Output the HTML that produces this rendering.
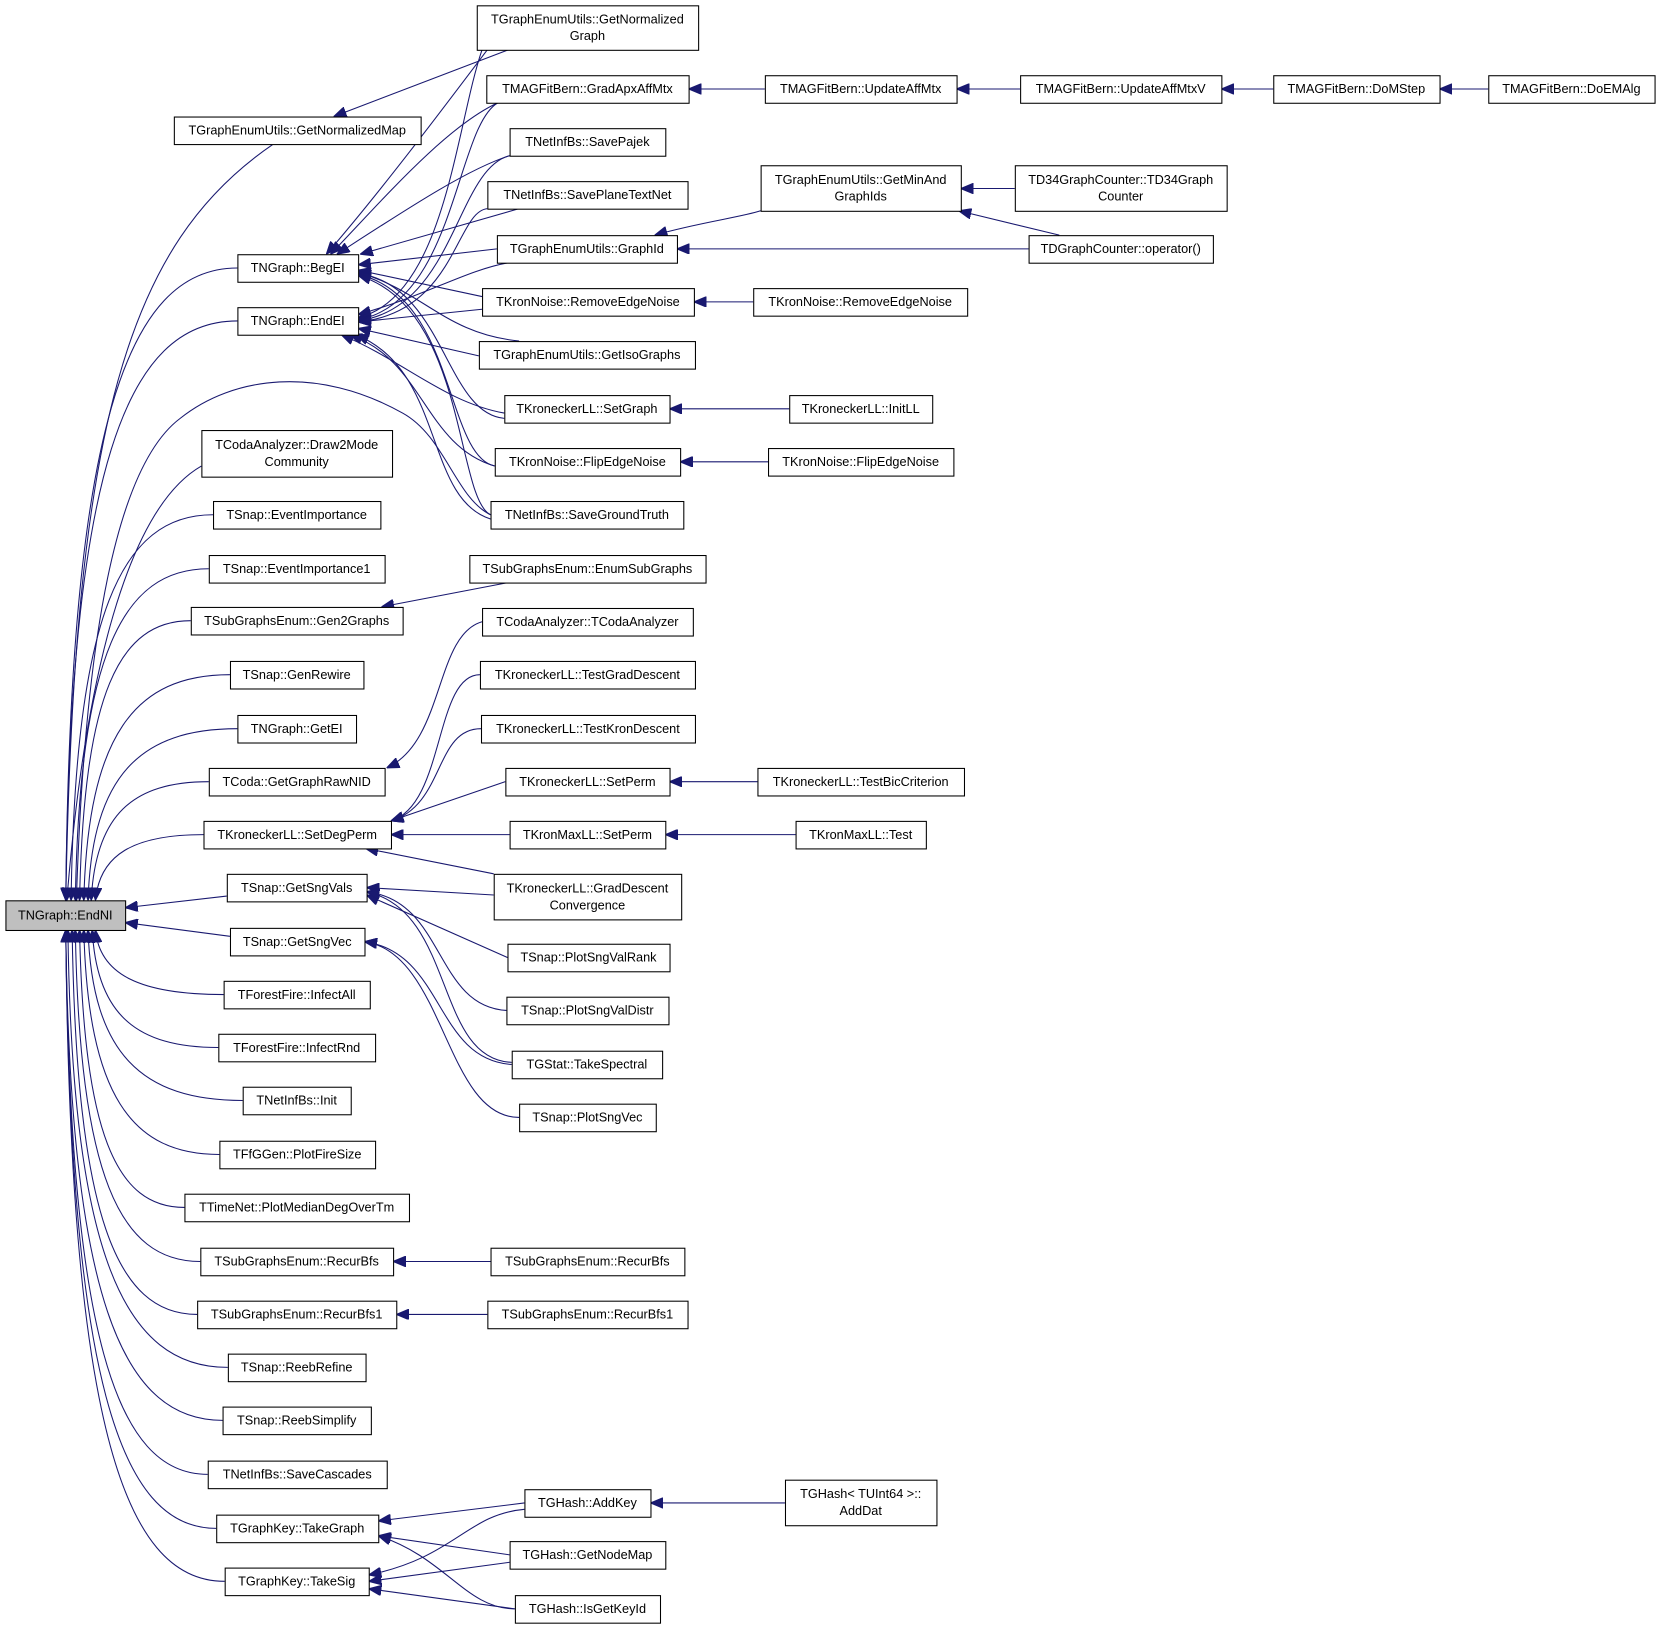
<!DOCTYPE html>
<html><head><meta charset="utf-8">
<style>
html,body{margin:0;padding:0;background:#fff;}
svg{display:block}
text{font-family:"Liberation Sans",sans-serif;font-size:12px;fill:#000;}
</style></head>
<body>
<svg id="g" width="1661" height="1629" viewBox="0 0 1568 1538" xmlns="http://www.w3.org/2000/svg">
<defs>
<marker id="a" viewBox="0 0 12 10" refX="0" refY="5" markerWidth="12" markerHeight="10" markerUnits="userSpaceOnUse" orient="auto">
<path d="M0,5 L12,0 L12,10 Z" fill="#191970" stroke="#191970"/>
</marker>
</defs>
<g id="edges" fill="none" stroke="#191970" stroke-width="1"></g>
<g id="nodes"></g>
</svg>
<script>
var N={
EndNI:[5,850,118,878,"TNGraph::EndNI"],
GNMap:[164,110,397,136,"TGraphEnumUtils::GetNormalizedMap"],
BegEI:[224,240,338,266,"TNGraph::BegEI"],
EndEI:[224,290,338,316,"TNGraph::EndEI"],
Draw2:[190,406,370,450,"TCodaAnalyzer::Draw2Mode|Community"],
EvI:[201,473,359,499,"TSnap::EventImportance"],
EvI1:[197,524,363,550,"TSnap::EventImportance1"],
Gen2:[180,573,380,599,"TSubGraphsEnum::Gen2Graphs"],
GenRew:[217,624,343,650,"TSnap::GenRewire"],
GetEI:[224,675,336,701,"TNGraph::GetEI"],
GRaw:[197,725,363,751,"TCoda::GetGraphRawNID"],
SDP:[192,775,369,801,"TKroneckerLL::SetDegPerm"],
GSVals:[214,825,346,851,"TSnap::GetSngVals"],
GSVec:[217,876,344,902,"TSnap::GetSngVec"],
IAll:[211,926,349,952,"TForestFire::InfectAll"],
IRnd:[206,976,354,1002,"TForestFire::InfectRnd"],
Init:[229,1026,331,1052,"TNetInfBs::Init"],
PFS:[207,1077,354,1103,"TFfGGen::PlotFireSize"],
PMD:[174,1127,386,1153,"TTimeNet::PlotMedianDegOverTm"],
RB:[189,1178,371,1204,"TSubGraphsEnum::RecurBfs"],
RB1:[186,1228,374,1254,"TSubGraphsEnum::RecurBfs1"],
RR:[215,1278,345,1304,"TSnap::ReebRefine"],
RS:[210,1328,350,1354,"TSnap::ReebSimplify"],
SC:[196,1379,365,1405,"TNetInfBs::SaveCascades"],
TG:[204,1430,357,1456,"TGraphKey::TakeGraph"],
TS:[212,1480,348,1506,"TGraphKey::TakeSig"],
GNG:[450,5,659,47,"TGraphEnumUtils::GetNormalized|Graph"],
GAAM:[459,71,650,97,"TMAGFitBern::GradApxAffMtx"],
SPaj:[481,121,628,147,"TNetInfBs::SavePajek"],
SPTN:[460,171,649,197,"TNetInfBs::SavePlaneTextNet"],
GId:[469,222,639,248,"TGraphEnumUtils::GraphId"],
REN:[455,272,655,298,"TKronNoise::RemoveEdgeNoise"],
GIso:[452,322,656,348,"TGraphEnumUtils::GetIsoGraphs"],
SG:[476,373,632,399,"TKroneckerLL::SetGraph"],
FEN:[467,423,642,449,"TKronNoise::FlipEdgeNoise"],
SGT:[463,473,645,499,"TNetInfBs::SaveGroundTruth"],
ESG:[443,524,666,550,"TSubGraphsEnum::EnumSubGraphs"],
TCA:[455,574,654,600,"TCodaAnalyzer::TCodaAnalyzer"],
TGD:[453,624,656,650,"TKroneckerLL::TestGradDescent"],
TKD:[454,675,656,701,"TKroneckerLL::TestKronDescent"],
SP1:[477,725,632,751,"TKroneckerLL::SetPerm"],
SP2:[481,775,628,801,"TKronMaxLL::SetPerm"],
GDC:[466,825,643,868,"TKroneckerLL::GradDescent|Convergence"],
PSVR:[479,891,632,917,"TSnap::PlotSngValRank"],
PSVD:[478,941,631,967,"TSnap::PlotSngValDistr"],
TSp:[483,992,625,1018,"TGStat::TakeSpectral"],
PSV:[490,1042,619,1068,"TSnap::PlotSngVec"],
RB_:[463,1178,646,1204,"TSubGraphsEnum::RecurBfs"],
RB1_:[460,1228,649,1254,"TSubGraphsEnum::RecurBfs1"],
AK:[495,1406,614,1432,"TGHash::AddKey"],
GNM:[481,1455,628,1481,"TGHash::GetNodeMap"],
IGK:[486,1506,623,1532,"TGHash::IsGetKeyId"],
UAM:[722,71,903,97,"TMAGFitBern::UpdateAffMtx"],
GMA:[718,156,907,199,"TGraphEnumUtils::GetMinAnd|GraphIds"],
REN2:[711,272,913,298,"TKronNoise::RemoveEdgeNoise"],
ILL:[745,373,880,399,"TKroneckerLL::InitLL"],
FEN2:[725,423,900,449,"TKronNoise::FlipEdgeNoise"],
TBC:[715,725,910,751,"TKroneckerLL::TestBicCriterion"],
Tst:[751,775,874,801,"TKronMaxLL::Test"],
AD:[741,1397,884,1440,"TGHash< TUInt64 >::|AddDat"],
UAMV:[963,71,1153,97,"TMAGFitBern::UpdateAffMtxV"],
TD34:[958,156,1158,199,"TD34GraphCounter::TD34Graph|Counter"],
OP:[971,222,1145,248,"TDGraphCounter::operator()"],
DMS:[1202,71,1359,97,"TMAGFitBern::DoMStep"],
DEM:[1405,71,1562,97,"TMAGFitBern::DoEMAlg"]
};
var E=document.getElementById('edges'),G=document.getElementById('nodes'),S='http://www.w3.org/2000/svg';
function p(d){var e=document.createElementNS(S,'path');e.setAttribute('d',d);e.setAttribute('marker-start','url(#a)');E.appendChild(e);}
function L(x1,y1,x2,y2){p('M'+x1+','+y1+' L'+x2+','+y2);}
function C(x1,y1,a,b,c,d,x2,y2){p('M'+x1+','+y1+' C'+a+','+b+' '+c+','+d+' '+x2+','+y2);}
// col2 -> EndNI
var ks=['GNMap','BegEI','EndEI','Draw2','EvI','EvI1','Gen2','GenRew','GetEI','GRaw','SDP','IAll','IRnd','Init','PFS','PMD','RB','RB1','RR','RS','SC','TG','TS'];
ks.forEach(function(k){var n=N[k],nx=n[0],ny=(n[1]+n[3])/2;if(k=='GNMap'){nx=258;ny=136;}
 var up=ny<864,ty=up?850:878,dist=Math.abs(ny-864);var tx=Math.round(62+34*Math.max(0,1-dist/450));
 if(k=='GNMap'){C(tx,ty,70,400,120,230,nx,ny);return;}
 if(k=='Draw2'){C(tx,ty,80,640,120,480,190,440);return;}
 C(tx,ty,tx+4,ny+(up?1:-1)*dist*0.25,tx+(nx-tx)*0.35,ny,nx,ny);});
L(118,857,214,846);L(118,871,217,884);
// EndNI -> SaveGroundTruth
p('M72,850 C80,600 110,440 170,395 C220,355 300,345 380,390 C420,412 430,470 463,486');
// GNMap <- GNG
L(315,110,480,47);
// BegEI top
C(308,240,360,180,420,100,460,47);
C(312,240,360,190,420,120,470,97);
C(318,240,380,200,440,160,481,147);
L(340,240,490,197);
// BegEI right
L(338,250,469,235);
L(338,255,455,280);
C(338,257,400,275,420,315,490,322);
C(338,258,420,270,420,390,476,395);
C(338,259,430,280,420,430,467,440);
C(338,260,440,290,430,470,463,486);
// EndEI right
C(338,300,420,280,430,120,455,47);
C(338,302,430,285,430,120,470,97);
C(338,303,430,290,430,160,481,147);
C(338,304,430,295,430,200,460,197);
C(338,297,400,280,440,255,480,248);
L(338,304,455,292);
L(338,310,452,336);
// EndEI bottom
C(322,316,380,340,420,380,476,390);
C(330,316,400,340,400,420,467,440);
C(336,316,420,350,400,470,463,490);
// col2 others
L(360,573,480,550);
C(365,725,420,700,410,600,455,587);
[['TGD',637],['TKD',688],['SP1',738],['SP2',788],['GDC',825]].forEach(function(a){var n=N[a[0]];
 if(a[0]=='SP2')L(369,788,481,788);else if(a[0]=='GDC')L(345,801,466,825);else if(a[0]=='SP1')L(369,775,477,738);else C(369,775,420,760,410,a[1],n[0],a[1]);});
L(346,838,466,845);L(346,845,479,904);C(346,842,420,850,410,950,478,954);C(346,842,430,860,410,1000,483,1003);
C(344,889,420,900,410,1000,483,1005);C(344,889,420,900,420,1055,490,1055);
L(371,1191,463,1191);L(374,1241,460,1241);
L(357,1436,495,1419);L(357,1450,481,1468);C(357,1450,420,1470,440,1519,486,1519);
C(348,1487,430,1470,440,1430,495,1425);L(348,1493,481,1475);L(348,1500,486,1519);
// col3 <- col4
L(650,84,722,84);C(618,222,660,210,700,205,718,199);L(639,235,971,235);
L(655,285,711,285);L(632,386,745,386);L(642,436,725,436);L(632,738,715,738);L(628,788,751,788);L(614,1419,741,1419);
L(903,84,963,84);L(907,178,958,178);L(905,199,1000,222);L(1153,84,1202,84);L(1359,84,1405,84);
// nodes
for(var k in N){var n=N[k],r=document.createElementNS(S,'rect');r.setAttribute('x',n[0]+.5);r.setAttribute('y',n[1]+.5);r.setAttribute('width',n[2]-n[0]);r.setAttribute('height',n[3]-n[1]);r.setAttribute('fill',k=='EndNI'?'#bfbfbf':'#fff');r.setAttribute('stroke','#000');G.appendChild(r);
 var ls=n[4].split('|'),cx=(n[0]+n[2])/2,cy=(n[1]+n[3])/2;ls.forEach(function(s,i){var t=document.createElementNS(S,'text');t.setAttribute('x',cx);t.setAttribute('y',cy+4+(i-(ls.length-1)/2)*16);t.setAttribute('text-anchor','middle');t.textContent=s;G.appendChild(t);});}
</script>
</body></html>
